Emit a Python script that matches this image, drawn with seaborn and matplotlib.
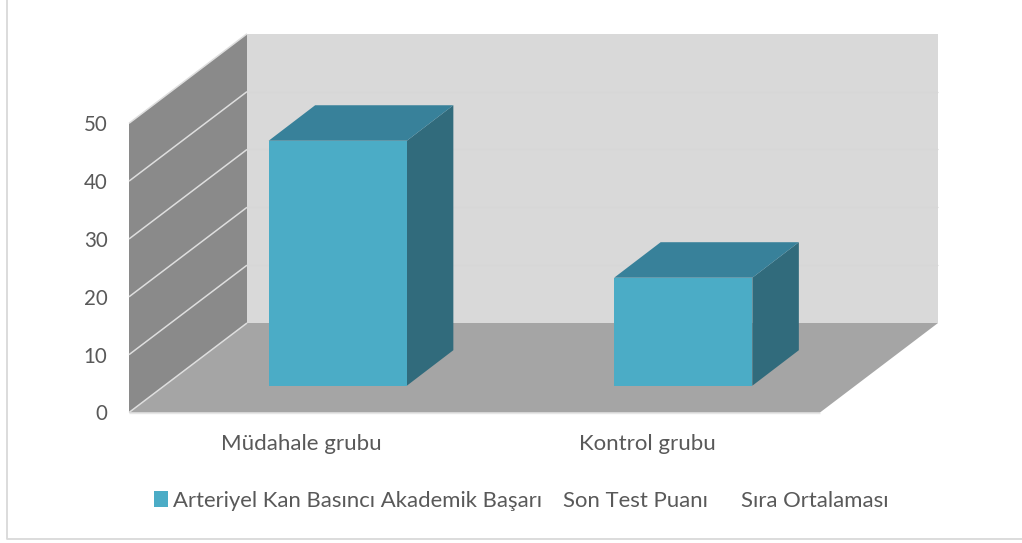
import matplotlib
matplotlib.use("Agg")
import matplotlib.pyplot as plt
from matplotlib.lines import Line2D
from matplotlib.patches import Polygon, Patch
import pandas as pd
import seaborn as sns

groups = ["Müdahale grubu", "Kontrol grubu"]
values = [42.35, 18.67]
legend_labels = ["Arteriyel Kan Basıncı Akademik Başarı", "Son Test Puanı", "Sıra Ortalaması"]
y_ticks = [0, 10, 20, 30, 40, 50]

W, H = 1022, 543
sns.set_theme(style="white")
plt.rcParams["font.family"] = ["Lato", "DejaVu Sans"]
TEXT = "#595959"
BAR, BAR_TOP, BAR_SIDE = "#4bacc6", "#38819a", "#316b7c"
WALL, LEFT, FLOOR = "#d9d9d9", "#8a8a8a", "#a5a5a5"

fig = plt.figure(figsize=(W / 100, H / 100), dpi=100, facecolor="white")
# Chart frame: only the left and bottom edges fall inside the picture
fig.add_artist(Line2D([6.5, 6.5, W], [H, 4, 4], transform=None, color="#d9d9d9", lw=1.3))


def axes_px(left, right, top, bottom):
    return fig.add_axes([left / W, 1 - bottom / H, (right - left) / W, (bottom - top) / H])


# Front plane of the chart box
ax = axes_px(129, 820, 123.3, 412.5)
df = pd.DataFrame({"group": groups, "value": values})
sns.barplot(data=df, x="group", y="value", ax=ax, alpha=0)
ax.set_xlim(-0.5, 1.5)
ax.set_ylim(0, 50)
ax.set_yticks(y_ticks)
ax.set_xlabel("")
ax.set_ylabel("")
ax.patch.set_alpha(0)
sns.despine(ax=ax, left=True, bottom=True)
ax.tick_params(axis="y", length=0, pad=15.5, labelsize=14.8, labelcolor=TEXT)
ax.tick_params(axis="x", length=0, pad=15.5, labelsize=16, labelcolor=TEXT)

depth_x, depth_y = 118, 89.5
to_px = ax.transData.transform
x0, x1 = ax.get_xlim()
y0, y1 = ax.get_ylim()


def quad(points, color, z):
    ax.add_patch(Polygon(points, closed=True, transform=None, facecolor=color, edgecolor="none", zorder=z, clip_on=False))


def line(a, b, color, lw, z):
    ax.plot([a[0], b[0]], [a[1], b[1]], transform=None, color=color, lw=lw, zorder=z, clip_on=False, solid_capstyle="butt")


def pt(x, y, d=0.0):
    p = to_px((x, y))
    return (p[0] + d * depth_x, p[1] + d * depth_y)


quad([pt(x0, y0, 1), pt(x1, y0, 1), pt(x1, y1, 1), pt(x0, y1, 1)], WALL, 0.5)
quad([pt(x0, y0), pt(x1, y0), pt(x1, y0, 1), pt(x0, y0, 1)], FLOOR, 0.6)
quad([pt(x0, y0), pt(x0, y0, 1), pt(x0, y1, 1), pt(x0, y1)], LEFT, 0.7)
for t in y_ticks[1:]:
    line(pt(x0, t), pt(x0, t, 1), "#dedede", 1.1, 0.8)
    if t < y1:
        line(pt(x0, t, 1), pt(x1, t, 1), "#d7d7d7", 0.8, 0.55)
line(pt(x0, y0), pt(x0, y0, 1), "#dedede", 1.1, 0.8)
line(pt(x0, y0), pt(x1, y0), "#e6e6e6", 1.0, 0.8)

# Bars stand part-way into the floor
bar_dx, bar_dy = 36, 26.8
bax = axes_px(129 + bar_dx, 820 + bar_dx, 123.3 - bar_dy, 412.5 - bar_dy)
sns.barplot(data=df, x="group", y="value", ax=bax, color=BAR, saturation=1, width=0.4, zorder=3, linewidth=0, edgecolor="none")
bax.set_xlim(-0.5, 1.5)
bax.set_ylim(0, 50)
bax.axis("off")
side_dx, side_dy = 46.5, 35.5
for bar in list(bax.patches):
    l, b = bax.transData.transform((bar.get_x(), 0))
    r, t = bax.transData.transform((bar.get_x() + bar.get_width(), bar.get_height()))
    bax.add_patch(Polygon([(r, b), (r + side_dx, b + side_dy), (r + side_dx, t + side_dy), (r, t)],
                          transform=None, facecolor=BAR_SIDE, edgecolor="none", zorder=2, clip_on=False))
    bax.add_patch(Polygon([(l, t), (r, t), (r + side_dx, t + side_dy), (l + side_dx, t + side_dy)],
                          transform=None, facecolor=BAR_TOP, edgecolor="none", zorder=2, clip_on=False))

# Legend: only the first series has a visible key
common = dict(frameon=False, fontsize=15.9, labelcolor=TEXT, loc="center left", bbox_transform=fig.transFigure,
              handlelength=0.62, handleheight=0.72, handletextpad=0.23, columnspacing=0.115, borderpad=0, borderaxespad=0)
blank = Patch(facecolor="none", edgecolor="none")
fig.legend([Patch(facecolor=BAR, edgecolor="none"), blank], legend_labels[:2], ncols=2,
           bbox_to_anchor=(154 / W, 1 - 501 / H), **common)
fig.legend([blank], legend_labels[2:], bbox_to_anchor=(722.5 / W, 1 - 501 / H), **common)

fig.savefig("out.png", dpi=100)
